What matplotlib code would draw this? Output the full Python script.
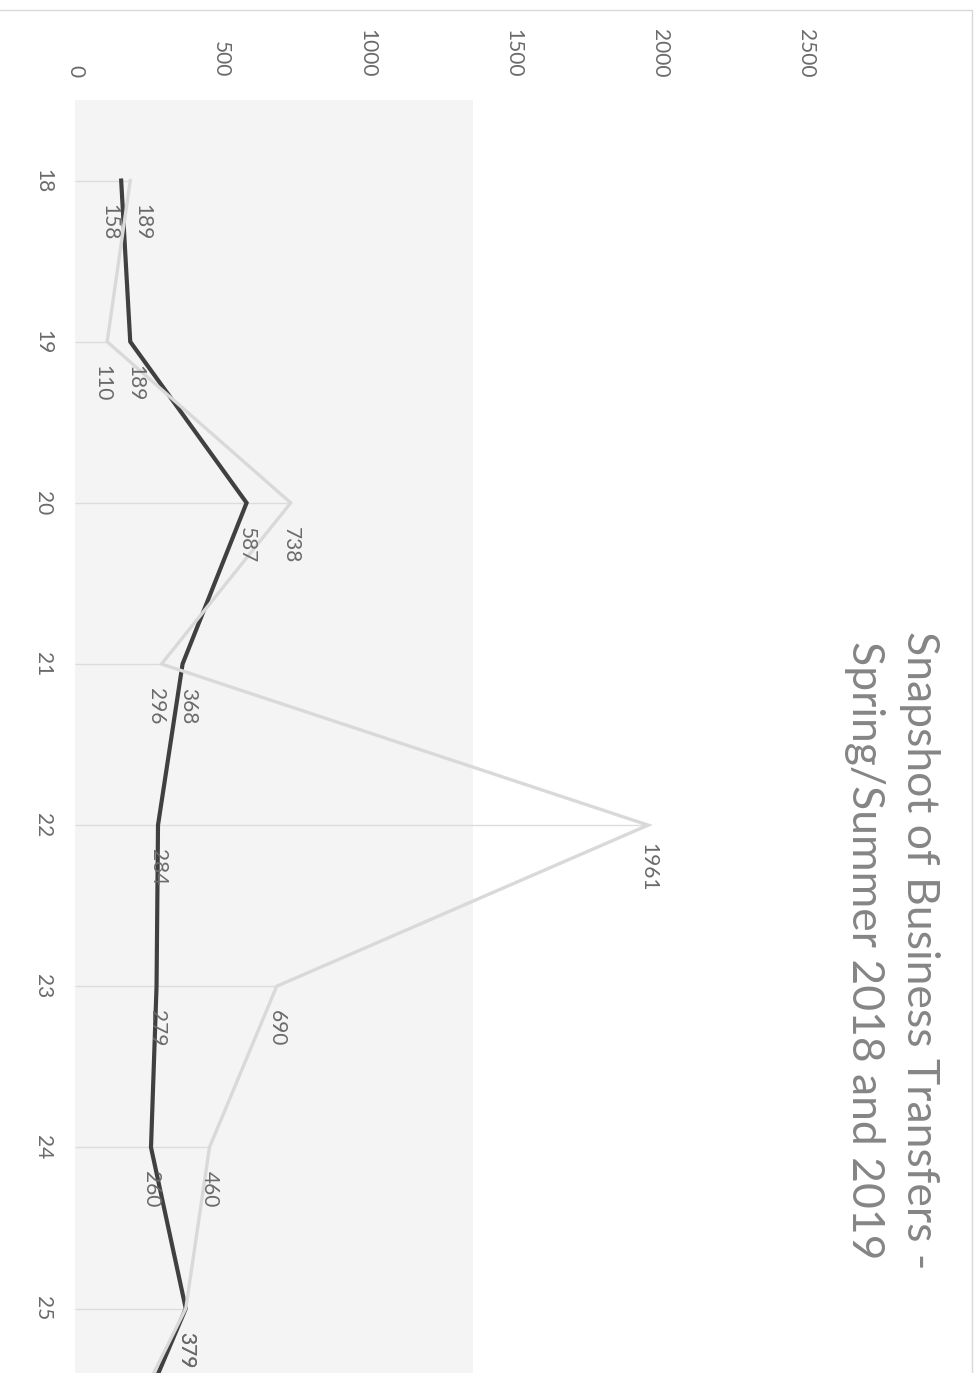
import matplotlib
matplotlib.use("Agg")
import matplotlib.pyplot as plt
from matplotlib.patches import Rectangle

plt.rcParams['font.family'] = ['Lato', 'DejaVu Sans']

# ---- data ----
weeks = [18, 19, 20, 21, 22, 23, 24, 25, 26]
series_dark = [158, 189, 587, 368, 284, 279, 260, 379, 145]
series_light = [189, 110, 738, 296, 1961, 690, 460, 379, 105]
value_ticks = [0, 500, 1000, 1500, 2000, 2500]
title = "Snapshot of Business Transfers -\nSpring/Summer 2018 and 2019"

W, H = 975, 1373
fig = plt.figure(figsize=(W / 100, H / 100), dpi=100)

# chart border (only top and right edges visible)
fig.patches.append(Rectangle((-0.01, -0.01), 972 / W + 0.01, 1 - 10 / H + 0.01,
                             transform=fig.transFigure, fill=False,
                             edgecolor='#d9d9d9', linewidth=1.0))

left = 75 / W
top = 1 - 100 / H
right = 972 / W
ax = fig.add_axes([left, 0, right - left, top])

px_per_unit = 0.2923
xmax = (972 - 75) / px_per_unit
ymax_vis = 25.40
ax.set_xlim(0, xmax)
ax.set_ylim(ymax_vis, 17.5)

# plot-area background
ax.axvspan(0, 1362, ymin=0, ymax=1, color='#f4f4f4', zorder=0, linewidth=0)

# drop lines to the light series
ax.hlines(weeks, 0, series_light, colors='#dcdcdc', linewidth=1.0, zorder=1)

ax.plot(series_dark, weeks, color='#404040', linewidth=3.0, zorder=3,
        solid_joinstyle='miter')
ax.plot(series_light, weeks, color='#d9d9d9', linewidth=2.4, zorder=4,
        solid_joinstyle='miter')

label_color = '#6a6a6a'
fs_lab = 15
min_sep = 112
lab_off = 0.26
for w, d, l in zip(weeks, series_dark, series_light):
    if w + lab_off > ymax_vis:
        continue
    xd, xl = d, l
    diff = abs(d - l)
    if 0 < diff < min_sep:
        m = (d + l) / 2
        if d < l:
            xd, xl = m - min_sep / 2, m + min_sep / 2
        else:
            xd, xl = m + min_sep / 2, m - min_sep / 2
    for xv, v in ((xd, d), (xl, l)):
        ax.text(xv, w + lab_off, str(v), rotation=-90, ha='center', va='center',
                fontsize=fs_lab, color=label_color, zorder=5)

ax.xaxis.tick_top()
ax.set_xticks(value_ticks)
ax.set_xticklabels([str(v) for v in value_ticks], rotation=-90, va='bottom',
                   ha='center', fontsize=fs_lab, color=label_color)
ax.tick_params(axis='x', length=0, pad=16.5)

ax.set_yticks(weeks[:-1])
ax.set_yticklabels([str(w) for w in weeks[:-1]], rotation=-90, ha='right',
                   va='center', fontsize=fs_lab, color=label_color)
ax.tick_params(axis='y', length=0, pad=16)

for s in ax.spines.values():
    s.set_visible(False)
ax.set_facecolor('none')

fig.text(892 / W, 1 - 950 / H, title, rotation=-90, ha='center', va='center',
         multialignment='center', fontsize=32, color='#858585',
         linespacing=1.4)

fig.savefig('out.png', dpi=100)
